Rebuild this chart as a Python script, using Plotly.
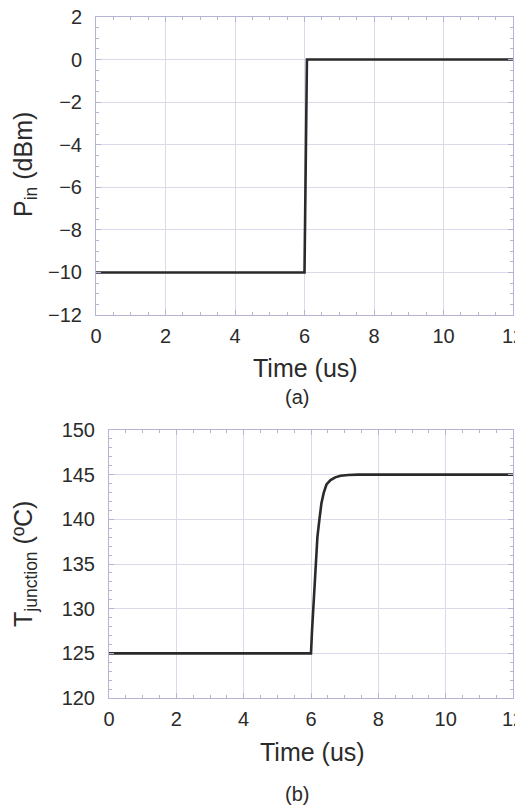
import plotly.graph_objects as go

# Panel (a): input power step
t_a = [0, 6.0, 6.07, 12]
p_in = [-10, -10, 0, 0]

# Panel (b): junction temperature response
t_b = [0, 6.0, 6.03, 6.07, 6.13, 6.19, 6.25, 6.31, 6.38, 6.46, 6.58, 6.72, 6.88, 7.1, 7.4, 12]
t_junc = [125, 125, 127.5, 130, 135, 138, 140, 141.8, 143, 143.9, 144.4, 144.7, 144.87, 144.96, 145, 145]

x_ticks = [0, 2, 4, 6, 8, 10, 12]
ya_ticks = [2, 0, -2, -4, -6, -8, -10, -12]
yb_ticks = [150, 145, 140, 135, 130, 125, 120]

OFF = 8  # default page body margin
W, H = 523 - OFF, 809 - OFF
LINE = "#2a2a2a"
AXC = "#b4b4d4"
GRID = "#dadaea"
TXT = "#2b2b2b"
FONT = "Liberation Sans, Arial, sans-serif"

def px(x):
    return (x - OFF) / W

def py(y):
    return 1 - (y - OFF) / H

fig = go.Figure()
fig.add_trace(go.Scatter(x=t_a, y=p_in, mode="lines", line=dict(color=LINE, width=2.6),
                         xaxis="x", yaxis="y", showlegend=False))
fig.add_trace(go.Scatter(x=t_b, y=t_junc, mode="lines", line=dict(color=LINE, width=2.6),
                         xaxis="x2", yaxis="y2", showlegend=False))

def common(standoff):
    return dict(showgrid=True, gridcolor=GRID, gridwidth=1, zeroline=False, automargin=False,
                showline=True, linecolor=AXC, linewidth=1, mirror="ticks",
                ticks="inside", ticklen=5, tickcolor=AXC, ticklabeloverflow="allow",
                tickfont=dict(size=20, color=TXT, family=FONT), ticklabelstandoff=standoff)

def xa(domain, anchor):
    d = common(3)
    d.update(domain=domain, anchor=anchor, range=[0, 12], tickvals=x_ticks,
             minor=dict(dtick=0.5, ticks="inside", ticklen=3, tickcolor=AXC, showgrid=False))
    return d

def ya(domain, anchor, rng, vals, mdt):
    d = common(9)
    d.update(domain=domain, anchor=anchor, range=rng, tickvals=vals,
             minor=dict(dtick=mdt, ticks="inside", ticklen=3, tickcolor=AXC, showgrid=False))
    return d

fig.update_layout(
    width=W, height=H, margin=dict(l=0, r=0, t=0, b=0),
    paper_bgcolor="white", plot_bgcolor="white",
    font=dict(family=FONT, color=TXT),
    xaxis=xa([px(96), px(513)], "y"),
    yaxis=ya([py(315), py(17)], "x", [-12, 2], ya_ticks, 0.5),
    xaxis2=xa([px(109), px(513)], "y2"),
    yaxis2=ya([py(698), py(430)], "x2", [120, 150], yb_ticks, 1),
)

def ann(text, x, y, size, angle=0):
    fig.add_annotation(text=text, x=px(x), y=py(y), xref="paper", yref="paper",
                       showarrow=False, textangle=angle, xanchor="center", yanchor="middle",
                       font=dict(size=size, color=TXT, family=FONT))

ann("Time (us)", 305, 368, 25)
ann("(a)", 297, 397, 20)
ann("P<sub>in</sub> (dBm)", 25, 165, 25, -90)
ann("Time (us)", 312, 752, 25)
ann("(b)", 297, 794, 20)
ann("T<sub>junction</sub> (ºC)", 25, 564, 25, -90)

fig.write_html("out.html")
